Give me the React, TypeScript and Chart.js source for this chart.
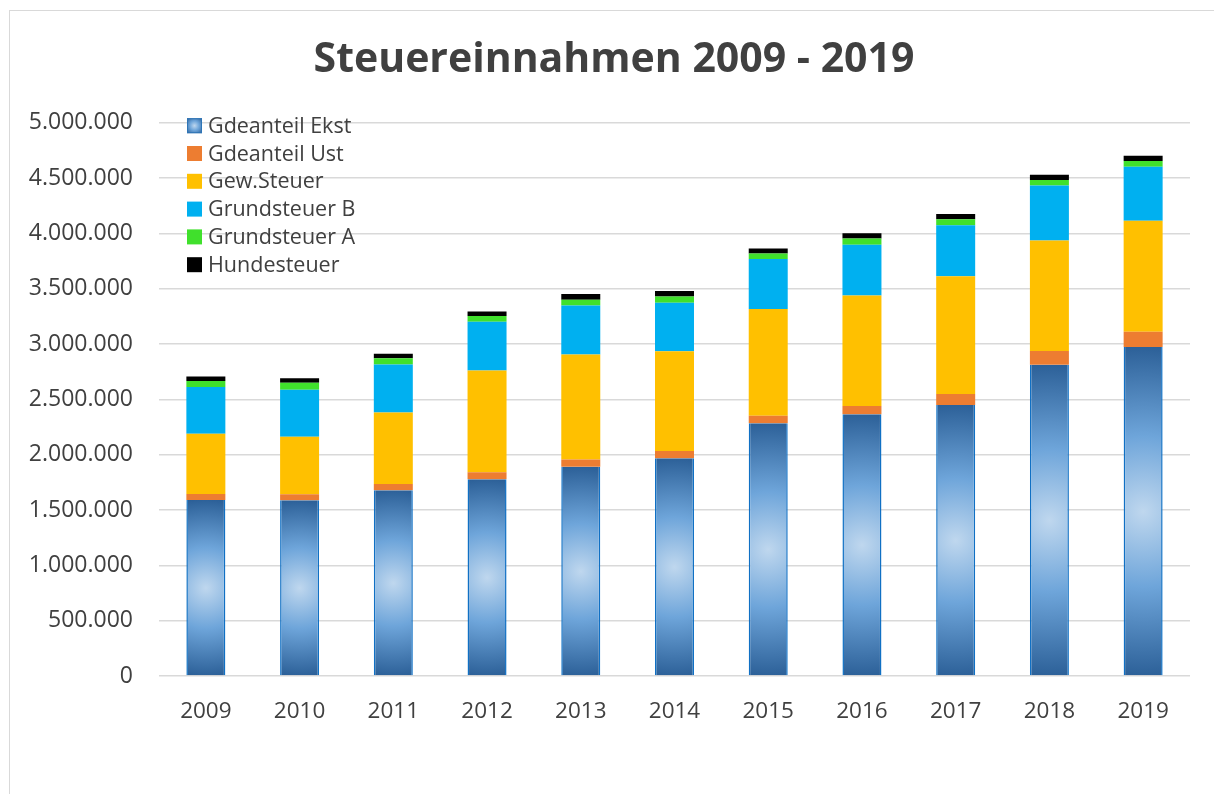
import React, { useEffect, useRef } from "react";
import { Chart, registerables } from "chart.js";

Chart.register(...registerables);

const years = ["2009", "2010", "2011", "2012", "2013", "2014", "2015", "2016", "2017", "2018", "2019"];
const gdeanteilEkst = [1591000, 1589000, 1679000, 1779000, 1890000, 1968000, 2285000, 2366000, 2450000, 2812000, 2972000];
const gdeanteilUst = [54000, 54000, 57000, 63000, 66000, 66000, 66000, 75000, 99000, 124000, 138000];
const gewSteuer = [545000, 518000, 645000, 919000, 949000, 901000, 965000, 997000, 1064000, 1000000, 1004000];
const grundsteuerB = [421000, 425000, 434000, 440000, 443000, 437000, 452000, 458000, 461000, 497000, 488000];
const grundsteuerA = [54000, 63000, 57000, 52000, 52000, 57000, 50000, 57000, 54000, 49000, 52000];
const hundesteuer = [42000, 42000, 39000, 42000, 52000, 49000, 45000, 49000, 48000, 48000, 48000];

const seriesLabels = ["Gdeanteil Ekst", "Gdeanteil Ust", "Gew.Steuer", "Grundsteuer B", "Grundsteuer A", "Hundesteuer"];
const seriesColors = ["#5b9bd5", "#ed7d31", "#ffc000", "#00b0f0", "#40e02c", "#000000"];

const FONT = '"Open Sans", "Noto Sans", sans-serif';
const TEXT = "#404040";

function blueGradient(ctx: CanvasRenderingContext2D, cx: number, cy: number, r: number) {
  const g = ctx.createRadialGradient(cx, cy, 0, cx, cy, Math.max(r, 1));
  g.addColorStop(0, "#bfd7ee");
  g.addColorStop(0.45, "#6ea5da");
  g.addColorStop(1, "#2a5e96");
  return g;
}

const fmt = (v: number) => String(v).replace(/\B(?=(\d{3})+(?!\d))/g, ".");

// Shift the title box so it is centred like the reference (over the whole frame).
const titleShift = {
  id: "titleShift",
  afterLayout(chart: any) {
    const t = chart.titleBlock;
    if (t) {
      t.left = 38;
      t.right = chart.chartArea.right;
      t.width = t.right - t.left;
    }
  },
};

const insideLegend = {
  id: "insideLegend",
  afterDraw(chart: any) {
    const { ctx, chartArea } = chart;
    const left = chartArea.left + 28;
    const top = chartArea.top + 3;
    const step = 27.8;
    const box = 15;
    ctx.save();
    ctx.font = `21.5px ${FONT}`;
    ctx.textBaseline = "middle";
    ctx.textAlign = "left";
    chart.data.datasets.forEach((ds: any, i: number) => {
      const cy = top + i * step;
      if (i === 0) {
        ctx.fillStyle = blueGradient(ctx, left + box / 2, cy, box * 0.7);
        ctx.fillRect(left, cy - box / 2, box, box);
        ctx.strokeStyle = "#2e75b6";
        ctx.lineWidth = 1;
        ctx.strokeRect(left + 0.5, cy - box / 2 + 0.5, box - 1, box - 1);
      } else {
        ctx.fillStyle = seriesColors[i];
        ctx.fillRect(left, cy - box / 2, box, box);
      }
      ctx.fillStyle = TEXT;
      ctx.fillText(ds.label, left + box + 6, cy + 1);
    });
    ctx.restore();
  },
};

export default function App() {
  const canvasRef = useRef<HTMLCanvasElement | null>(null);

  useEffect(() => {
    if (!canvasRef.current) return;
    const values = [gdeanteilEkst, gdeanteilUst, gewSteuer, grundsteuerB, grundsteuerA, hundesteuer];
    const datasets = values.map((data, i) => {
      const base: any = {
        label: seriesLabels[i],
        data,
        backgroundColor: seriesColors[i],
        borderWidth: 0,
        categoryPercentage: 1,
        barPercentage: 0.416,
      };
      if (i === 0) {
        base.backgroundColor = (c: any) => {
          const chart = c.chart;
          const { scales, chartArea } = chart;
          if (!chartArea || c.type !== "data" || !scales.x || !scales.y) return seriesColors[0];
          const cx = scales.x.getPixelForValue(c.dataIndex);
          const topPx = scales.y.getPixelForValue(c.parsed ? c.parsed.y : c.raw);
          const basePx = scales.y.getPixelForValue(0);
          const r = (basePx - topPx) / 2;
          return blueGradient(chart.ctx, cx, topPx + r, r * 1.02);
        };
        base.borderColor = "#1070c4";
        base.borderWidth = { left: 1.5, right: 1.5, top: 0, bottom: 0 };
        base.borderSkipped = false;
      }
      return base;
    });

    const chart = new Chart(canvasRef.current, {
      type: "bar",
      data: { labels: years, datasets },
      plugins: [titleShift, insideLegend],
      options: {
        animation: false,
        responsive: true,
        maintainAspectRatio: false,
        layout: { padding: { left: 0, right: 24, top: 0, bottom: 0 } },
        plugins: {
          legend: { display: false },
          tooltip: { enabled: false },
          title: {
            display: true,
            text: "Steuereinnahmen 2009 - 2019",
            color: TEXT,
            font: { family: FONT, size: 41, weight: "bold" },
            padding: { top: 36, bottom: 37.5 },
          },
        },
        scales: {
          x: {
            stacked: true,
            grid: { display: false, drawTicks: false },
            border: { display: false },
            ticks: { color: TEXT, font: { family: FONT, size: 22.5 }, padding: 22 },
            afterFit: (s: any) => {
              s.height = 118;
            },
          },
          y: {
            stacked: true,
            min: 0,
            max: 5000000,
            ticks: {
              stepSize: 500000,
              color: TEXT,
              font: { family: FONT, size: 23 },
              padding: 26,
              callback: (v: any) => fmt(Number(v)),
            },
            grid: { color: "#d9d9d9", lineWidth: 1.5, drawTicks: false },
            border: { display: false },
            afterFit: (s: any) => {
              s.width = 159;
            },
          },
        },
      } as any,
    });
    return () => chart.destroy();
  }, []);

  return (
    <div style={{ position: "fixed", left: 0, top: 0, width: 1214, height: 794, overflow: "hidden", background: "#fff" }}>
      <div
        style={{
          position: "absolute",
          left: 9,
          top: 10,
          width: 1300,
          height: 900,
          border: "1px solid #d9d9d9",
        }}
      />
      <div style={{ position: "absolute", left: 0, top: 0, width: 1214, height: 794 }}>
        <canvas ref={canvasRef} />
      </div>
    </div>
  );
}
